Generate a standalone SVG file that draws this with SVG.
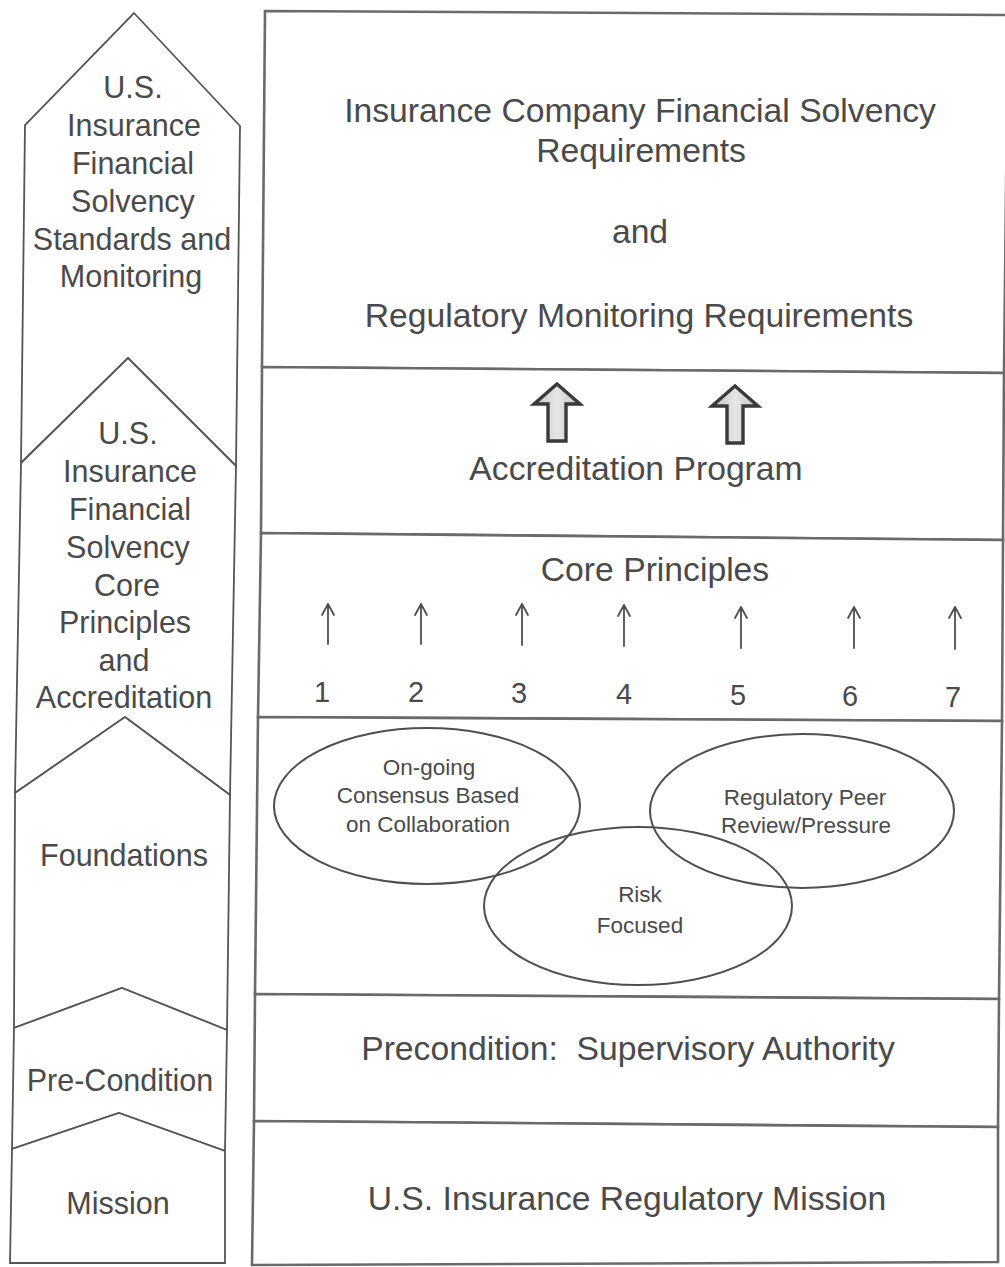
<svg xmlns="http://www.w3.org/2000/svg" width="1005" height="1267" viewBox="0 0 1005 1267">
  <style>
    .stage { fill: #ffffff; stroke: #555555; stroke-width: 1.8; stroke-linejoin: miter; }
    .row { fill: #ffffff; stroke: #6a6a6a; stroke-width: 2.6; }
    .ring { fill: none; stroke: #4f4f4f; stroke-width: 2; }
    .lbl { font-family: "Liberation Sans", Arial, sans-serif; fill: #4a4a4a; text-anchor: middle; }
    .side { font-size: 30.5px; }
    .main { font-size: 33.7px; }
    .num { font-size: 29px; }
    .small { font-size: 22.5px; }
    .keep { white-space: pre; }
    .tick { fill: none; stroke: #4f4f4f; stroke-width: 1.8; stroke-linecap: round; stroke-linejoin: round; }
    .block { fill: url(#blockFill); stroke: #3a3a3a; stroke-width: 3.4; stroke-linejoin: miter; }
  </style>
  <defs>
    <linearGradient id="blockFill" x1="0" y1="0" x2="1" y2="0">
      <stop offset="0" stop-color="#c4c4c4"/>
      <stop offset="0.5" stop-color="#e6e6e6"/>
      <stop offset="1" stop-color="#c4c4c4"/>
    </linearGradient>
  </defs>

  <rect width="1005" height="1267" fill="#ffffff"/>

  <!-- left column: stacked chevron stages -->
  <g id="stage-standards">
    <polygon class="stage" points="134,13 240,126 236,466 128,358 21,463 25,125"/>
    <text class="lbl side" x="133" y="98">U.S.</text>
    <text class="lbl side" x="134" y="136">Insurance</text>
    <text class="lbl side" x="133" y="174">Financial</text>
    <text class="lbl side" x="133" y="212">Solvency</text>
    <text class="lbl side" x="132" y="250">Standards and</text>
    <text class="lbl side" x="131" y="287">Monitoring</text>
  </g>
  <g id="stage-core">
    <polygon class="stage" points="128,358 236,466 230,795 125,717 15,793 21,463"/>
    <text class="lbl side" x="128" y="444">U.S.</text>
    <text class="lbl side" x="130" y="482">Insurance</text>
    <text class="lbl side" x="130" y="520">Financial</text>
    <text class="lbl side" x="128" y="558">Solvency</text>
    <text class="lbl side" x="127" y="596">Core</text>
    <text class="lbl side" x="125" y="633">Principles</text>
    <text class="lbl side" x="124" y="671">and</text>
    <text class="lbl side" x="124" y="708">Accreditation</text>
  </g>
  <g id="stage-foundations">
    <polygon class="stage" points="125,717 230,795 227,1030 122,988 14,1028 15,793"/>
    <text class="lbl side" x="124" y="866">Foundations</text>
  </g>
  <g id="stage-precondition">
    <polygon class="stage" points="122,988 227,1030 225,1151 119,1113 12,1149 14,1028"/>
    <text class="lbl side" x="120" y="1091">Pre-Condition</text>
  </g>
  <g id="stage-mission">
    <polygon class="stage" points="119,1113 225,1151 225,1263 10,1263 12,1149"/>
    <text class="lbl side" x="118" y="1214">Mission</text>
  </g>

  <!-- right column: layered requirement rows -->
  <g id="row-requirements">
    <polygon class="row" points="265,11 1008,15 1004,373 262,367"/>
    <text class="lbl main" x="640" y="122">Insurance Company Financial Solvency</text>
    <text class="lbl main" x="641" y="162">Requirements</text>
    <text class="lbl main" x="640" y="243">and</text>
    <text class="lbl main" x="639" y="327">Regulatory Monitoring Requirements</text>
  </g>
  <g id="row-accreditation">
    <polygon class="row" points="262,367 1004,373 1003,540 261,533"/>
    <path class="block" d="M557,384 L580,404 L566,404 L566,441 L548,441 L548,404 L534,404 Z"/>
    <path class="block" d="M735,386 L758,406 L743,406 L743,443 L727,443 L727,406 L712,406 Z"/>
    <text class="lbl main" x="636" y="480">Accreditation Program</text>
  </g>
  <g id="row-core-principles">
    <polygon class="row" points="261,533 1003,540 1002,721 258,717"/>
    <text class="lbl main" x="655" y="581">Core Principles</text>
    <text class="lbl num" x="322" y="702">1</text>
    <text class="lbl num" x="416" y="702">2</text>
    <text class="lbl num" x="519" y="703">3</text>
    <text class="lbl num" x="624" y="704">4</text>
    <text class="lbl num" x="738" y="705">5</text>
    <text class="lbl num" x="850" y="706">6</text>
    <text class="lbl num" x="953" y="707">7</text>
  </g>
  <g id="row-foundations">
    <polygon class="row" points="258,717 1002,721 999,999 255,994"/>
  </g>
  <g id="row-precondition">
    <polygon class="row" points="255,994 999,999 998,1127 254,1121"/>
    <text class="lbl main keep" x="628" y="1060" xml:space="preserve">Precondition:  Supervisory Authority</text>
  </g>
  <g id="row-mission">
    <polygon class="row" points="254,1121 998,1127 998,1262 252,1265"/>
    <text class="lbl main" x="627" y="1210">U.S. Insurance Regulatory Mission</text>
  </g>

  <!-- foundation circles -->
  <g id="circle-consensus">
    <ellipse class="ring" cx="427" cy="806" rx="153" ry="78"/>
    <text class="lbl small" x="429" y="775">On-going</text>
    <text class="lbl small" x="428" y="803">Consensus Based</text>
    <text class="lbl small" x="428" y="832">on Collaboration</text>
  </g>
  <g id="circle-peer-review">
    <ellipse class="ring" cx="802" cy="811" rx="152" ry="77"/>
    <text class="lbl small" x="805" y="805">Regulatory Peer</text>
    <text class="lbl small" x="806" y="833">Review/Pressure</text>
  </g>
  <g id="circle-risk">
    <ellipse class="ring" cx="638" cy="906" rx="154" ry="79"/>
    <text class="lbl small" x="640" y="902">Risk</text>
    <text class="lbl small" x="640" y="933">Focused</text>
  </g>

  <!-- principle arrows -->
  <g id="connectors">
    <path class="tick" d="M328,644 V604 M322,615 L328,604 L334,615"/>
    <path class="tick" d="M421,644 V604 M415,615 L421,604 L427,615"/>
    <path class="tick" d="M522,645 V604 M516,615 L522,604 L528,615"/>
    <path class="tick" d="M624,646 V605 M618,616 L624,605 L630,616"/>
    <path class="tick" d="M741,648 V607 M735,618 L741,607 L747,618"/>
    <path class="tick" d="M854,648 V607 M848,618 L854,607 L860,618"/>
    <path class="tick" d="M955,649 V607 M949,618 L955,607 L961,618"/>
  </g>
</svg>
